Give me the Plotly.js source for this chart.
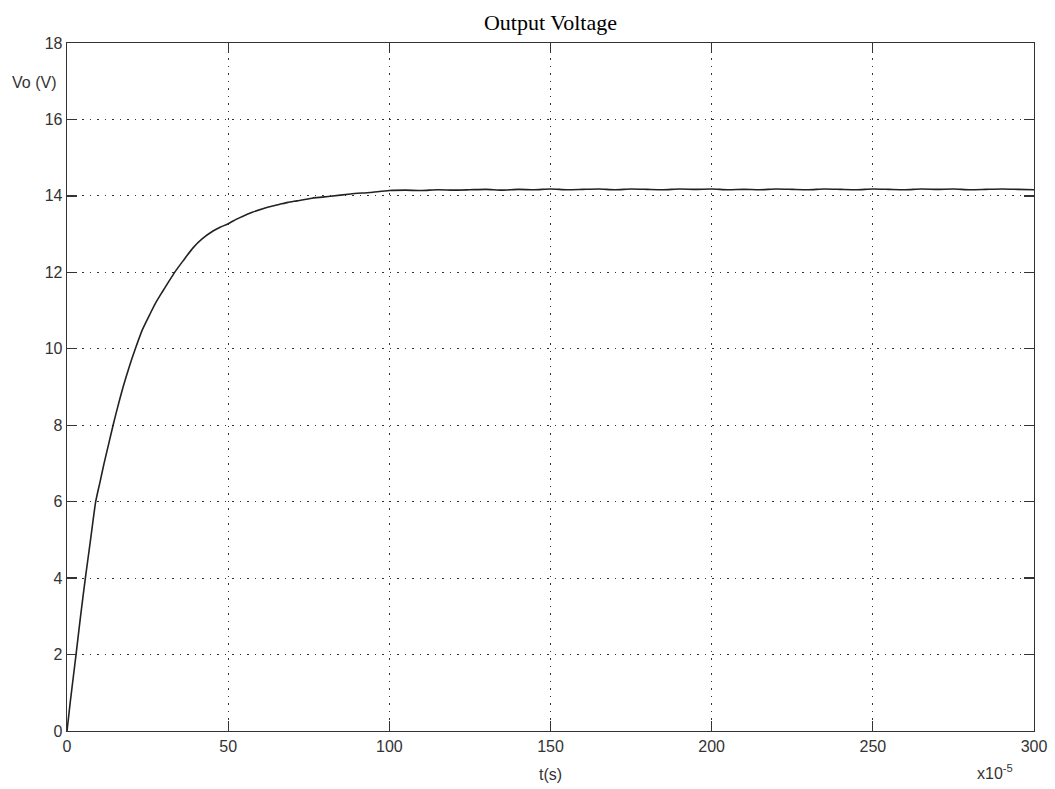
<!DOCTYPE html>
<html>
<head>
<meta charset="utf-8">
<script src="https://cdn.plot.ly/plotly-3.0.1.min.js"></script>
<style>html,body{margin:0;padding:0;background:#fff;}#chart{width:1055px;height:789px;}</style>
</head>
<body>
<div id="chart"></div>
<script>
// time in units of 1e-5 s
const timeValues = [0, 1, 2.8, 4.2, 5.7, 7.3, 8.9, 10.2, 11.5, 12.9, 14.3, 15.8, 17.4, 19.2, 21.2, 23.4, 25.7, 27.5, 29.5, 31.5, 33.4, 36, 39.1, 42, 45.3, 47.5, 50, 52.3, 54.6, 57.5, 61, 63.5, 66, 68.5, 71.3, 76, 81.7, 88, 94, 100,
  105, 110, 115, 120, 125, 130, 135, 140, 145, 150, 155, 160, 165, 170, 175, 180, 185, 190, 195, 200,
  205, 210, 215, 220, 225, 230, 235, 240, 245, 250, 255, 260, 265, 270, 275, 280, 285, 290, 295, 300];
// output voltage (V)
const voltageValues = [0, 0.75, 2.0, 3.0, 4.0, 5.0, 6.0, 6.5, 7.0, 7.5, 8.0, 8.5, 9.0, 9.5, 10.0, 10.5, 10.9, 11.2, 11.48, 11.75, 12.0, 12.3, 12.64, 12.88, 13.08, 13.18, 13.27, 13.38, 13.47, 13.57, 13.67, 13.73, 13.78, 13.83, 13.87, 13.94, 13.99, 14.05, 14.09, 14.14,
  14.15, 14.14, 14.16, 14.15, 14.16, 14.17, 14.15, 14.17, 14.16, 14.18, 14.16, 14.17, 14.18, 14.16, 14.18, 14.17, 14.16, 14.18, 14.17, 14.18,
  14.16, 14.17, 14.16, 14.18, 14.17, 14.16, 14.18, 14.17, 14.16, 14.18, 14.17, 14.16, 14.18, 14.17, 14.18, 14.16, 14.17, 14.18, 14.17, 14.16];
const xTicks = [0, 50, 100, 150, 200, 250, 300];
const yTicks = [0, 2, 4, 6, 8, 10, 12, 14, 16, 18];

const tickFont = {family: 'Liberation Sans, Arial, sans-serif', size: 16, color: '#333'};
const axisCommon = {
  showline: true, mirror: 'ticks', linecolor: '#333', linewidth: 1.3,
  ticks: 'inside', ticklen: 10, tickcolor: '#333', tickwidth: 1.3,
  showgrid: true, gridcolor: '#333', gridwidth: 1, griddash: '1.5px,6px',
  zeroline: false, tickfont: tickFont, fixedrange: true
};

const trace = {
  x: timeValues, y: voltageValues, type: 'scatter', mode: 'lines',
  line: {color: '#222', width: 1.6, shape: 'spline', smoothing: 0.6}, hoverinfo: 'skip'
};

const layout = {
  width: 1055, height: 789,
  margin: {l: 67, r: 21, t: 43, b: 58},
  paper_bgcolor: '#fff', plot_bgcolor: '#fff',
  showlegend: false,
  title: {text: 'Output Voltage', font: {family: 'Liberation Serif, Times New Roman, serif', size: 22, color: '#000'},
    xref: 'paper', x: 0.5, xanchor: 'center', yref: 'container', y: 1 - 22/789, yanchor: 'middle'},
  xaxis: Object.assign({}, axisCommon, {range: [0, 300], tickvals: xTicks, ticktext: xTicks.map(String)}),
  yaxis: Object.assign({}, axisCommon, {range: [0, 18], tickvals: yTicks, ticktext: yTicks.map(String)}),
  annotations: [
    {text: 'Vo (V)', xref: 'paper', yref: 'paper', x: -0.009, y: 0.943, xanchor: 'right', yanchor: 'middle', showarrow: false, font: tickFont},
    {text: 't(s)', xref: 'paper', yref: 'paper', x: 0.5, y: -0.0625, xanchor: 'center', yanchor: 'middle', showarrow: false, font: tickFont},
    {text: 'x10<sup>-5</sup>', xref: 'paper', yref: 'paper', x: 0.96, y: -0.06, xanchor: 'center', yanchor: 'middle', showarrow: false, font: tickFont}
  ]
};

Plotly.newPlot('chart', [trace], layout, {displayModeBar: false, staticPlot: true});
</script>
</body>
</html>
